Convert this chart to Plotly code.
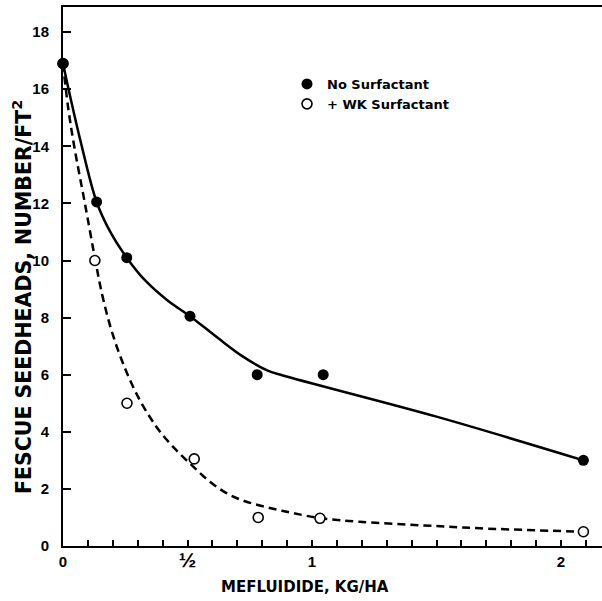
import plotly.graph_objects as go

# Data
dose_no = [0, 0.135, 0.256, 0.51, 0.78, 1.045, 2.09]
seed_no = [16.9, 12.05, 10.1, 8.05, 6.0, 6.0, 3.0]

dose_wk = [0, 0.128, 0.257, 0.527, 0.784, 1.032, 2.09]
seed_wk = [16.9, 10.0, 5.0, 3.05, 1.0, 0.97, 0.5]

# hand-drawn fitted curves
fit_no_x = [0, 0.03, 0.07, 0.135, 0.19, 0.256, 0.33, 0.42, 0.51, 0.62, 0.72, 0.82, 0.88, 1.5, 2.09]
fit_no_y = [16.9, 15.7, 14.2, 12.05, 11.0, 10.1, 9.3, 8.6, 8.05, 7.3, 6.65, 6.15, 5.98, 4.53, 3.0]

fit_wk_x = [0, 0.02, 0.045, 0.088, 0.13, 0.16, 0.2, 0.25, 0.3, 0.35, 0.39, 0.45, 0.523, 0.59,
            0.657, 0.72, 0.79, 0.86, 0.925, 1.03, 1.19, 1.45, 1.675, 2.08]
fit_wk_y = [16.9, 15.4, 14.0, 12.0, 10.0, 8.7, 7.4, 6.2, 5.25, 4.5, 4.0, 3.4, 2.78, 2.25,
            1.85, 1.6, 1.42, 1.27, 1.15, 0.98, 0.85, 0.72, 0.62, 0.5]

x_tickvals = [0, 0.5, 1, 2]
x_ticktext = ["0", "<span style='font-size:21px'>½</span>", "1", "2"]
x_minor_ticks = [round(i * 0.1, 1) for i in range(22)]
y_tickvals = list(range(0, 19, 2))

TICKFONT = "Liberation Sans"
TITLEFONT = "DejaVu Sans"
fig = go.Figure()

fig.add_trace(go.Scatter(x=fit_wk_x, y=fit_wk_y, mode="lines",
                         line=dict(color="black", width=2.5, dash="8px,5px", shape="spline", smoothing=1),
                         showlegend=False, hoverinfo="skip"))
fig.add_trace(go.Scatter(x=fit_no_x, y=fit_no_y, mode="lines",
                         line=dict(color="black", width=2.5, shape="spline", smoothing=1),
                         showlegend=False, hoverinfo="skip"))
fig.add_trace(go.Scatter(x=dose_wk, y=seed_wk, mode="markers", name="+ WK Surfactant",
                         marker=dict(symbol="circle", size=10, color="white",
                                     line=dict(color="black", width=1.6)),
                         showlegend=False, cliponaxis=False))
fig.add_trace(go.Scatter(x=dose_no, y=seed_no, mode="markers", name="No Surfactant",
                         marker=dict(symbol="circle", size=11, color="black"),
                         showlegend=False, cliponaxis=False))

# legend entries
fig.add_trace(go.Scatter(x=[None], y=[None], mode="markers", name="No Surfactant",
                         marker=dict(symbol="circle", size=11, color="black")))
fig.add_trace(go.Scatter(x=[None], y=[None], mode="markers", name="+ WK Surfactant",
                         marker=dict(symbol="circle", size=10, color="white",
                                     line=dict(color="black", width=1.6))))

fig.update_layout(
    width=602, height=601,
    margin=dict(l=63, r=0, t=7, b=55),
    paper_bgcolor="white", plot_bgcolor="white",
    font=dict(family=TICKFONT, color="black", size=13),
    legend=dict(x=(287 - 63) / 539, y=(546 - 69) / 539, xanchor="left", yanchor="top",
                bgcolor="rgba(0,0,0,0)", itemwidth=30, tracegroupgap=0,
                font=dict(family=TITLEFONT, size=13, weight="bold")),
    xaxis=dict(range=[0, 539 / 249], showgrid=False, zeroline=False,
               showline=True, linecolor="black", linewidth=2, mirror=True,
               ticks="inside", ticklen=6, tickwidth=1.5, tickcolor="black",
               tickvals=x_tickvals, ticktext=x_ticktext, ticklabelstandoff=1,
               minor=dict(tickvals=x_minor_ticks, ticks="inside", ticklen=6,
                          tickwidth=1.5, tickcolor="black", showgrid=False),
               tickfont=dict(family=TICKFONT, size=15, weight="bold")),
    yaxis=dict(range=[0, 539 / 28.55], showgrid=False, zeroline=False,
               showline=True, linecolor="black", linewidth=2, mirror=False,
               ticks="inside", ticklen=8, tickwidth=1.5, tickcolor="black",
               tickvals=y_tickvals, ticklabelstandoff=9,
               tickfont=dict(family=TICKFONT, size=15, weight="bold")),
    annotations=[
        dict(text="MEFLUIDIDE, KG/HA", xref="paper", yref="paper",
             x=(305 - 63) / 539, y=-(587 - 546) / 539, xanchor="center", yanchor="middle",
             showarrow=False, font=dict(family=TITLEFONT, size=15, weight="bold")),
        dict(text="FESCUE SEEDHEADS, NUMBER/FT<sup>2</sup>", xref="paper", yref="paper",
             x=-(63 - 22) / 539, y=(546 - 297) / 539, xanchor="center", yanchor="middle",
             textangle=-90, showarrow=False, font=dict(family=TITLEFONT, size=20.5, weight="bold")),
    ],
)

fig.write_html("out.html")
